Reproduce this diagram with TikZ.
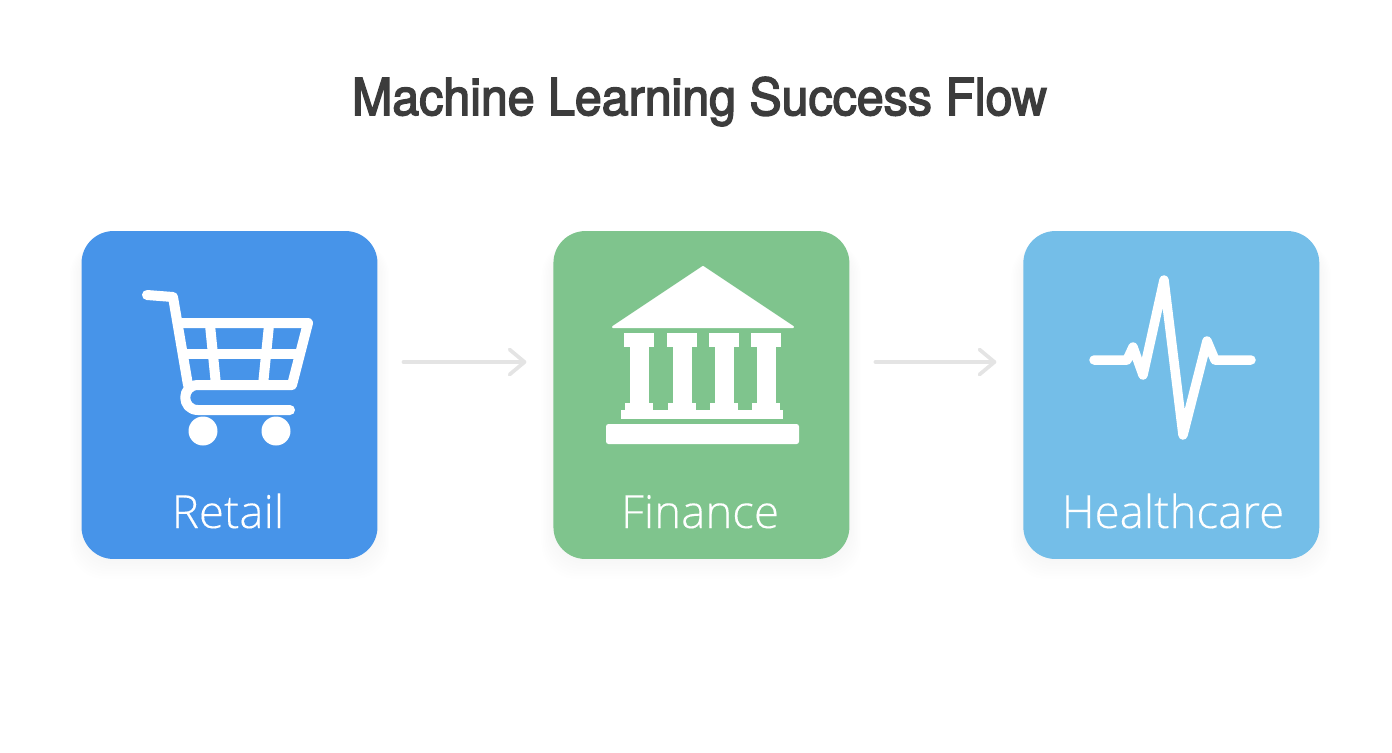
\documentclass[tikz,border=0pt]{standalone}
\usepackage{fontspec}
\usepackage{xcolor}
\usetikzlibrary{positioning,arrows.meta,backgrounds}
\setmainfont{Open Sans}
\newfontfamily\titlefont{TeX Gyre Heros}[FakeBold=3,FakeStretch=0.948]
\newfontfamily\boxfont{Open Sans Light}[FakeBold=0.2]
\definecolor{retailBlue}{RGB}{71, 148, 233}
\definecolor{financeGreen}{RGB}{127, 196, 141}
\definecolor{healthBlue}{RGB}{116, 190, 232}
\definecolor{titleGray}{RGB}{60, 60, 60}
\definecolor{arrowGray}{RGB}{228, 228, 228}
\tikzset{
  sectorbox/.style={rounded corners=0.64cm, minimum width=5.92cm, minimum height=6.56cm, outer sep=0pt, inner sep=0pt},
  boxlabel/.style={text=white, anchor=base, inner sep=0pt, font=\boxfont\fontsize{26}{26}\selectfont},
  flowarrow/.style={-{Straight Barb[length=0.3cm, width=0.5cm, round]}, line width=0.075cm, color=arrowGray, line cap=round, shorten <=0.52cm, shorten >=0.54cm},
  iconline/.style={draw=white, line width=0.2cm, line cap=round, line join=round},
  iconfill/.style={fill=white}
}
\begin{document}
\begin{tikzpicture}[x=0.02cm, y=-0.02cm]
  \useasboundingbox (0,0) rectangle (1392,752);
  \node[font=\titlefont\fontsize{29}{29}\selectfont, text=titleGray, anchor=base, inner sep=0pt] (title) at (699.5,115) {Machine Learning Success Flow};

  \node[sectorbox, fill=retailBlue] (retail) at (229.5,395) {};
  \node[sectorbox, fill=financeGreen, right=3.52cm of retail] (finance) {};
  \node[sectorbox, fill=healthBlue, right=3.48cm of finance] (health) {};

  % soft shadows
  \begin{scope}[on background layer]
    \foreach \b in {retail,finance,health}
      \foreach \g in {1,...,8}
        \fill[black, opacity=0.003, rounded corners=0.7cm] ([shift={(-\g*0.03cm,-\g*0.05cm)}]\b.south west) rectangle ([shift={(\g*0.03cm,-0.2cm)}]\b.north east);
  \end{scope}

  \node[boxlabel] (retaillabel) at (228,528) {Retail};
  \node[boxlabel] (financelabel) at (700,528) {Finance};
  \node[boxlabel] (healthlabel) at (1173,528) {Healthcare};

  \draw[flowarrow] ([yshift=0.66cm]retail.east) -- ([yshift=0.66cm]finance.west);
  \draw[flowarrow] ([yshift=0.66cm]finance.east) -- ([yshift=0.66cm]health.west);

  % cart
  \draw[iconline] (147,295) -- (173,297) -- (188,385);
  \draw[iconline] (182,323) -- (308,323) -- (292,385) -- (198,385) .. controls (181,385) and (181,410) .. (198,410) -- (290,410);
  \draw[iconline, line cap=butt] (185,354) -- (300,354);
  \draw[iconline, line cap=butt] (210,325) -- (216,385);
  \draw[iconline, line cap=butt] (269,325) -- (263,385);
  \fill[iconfill] (203,431) circle[radius=0.29cm];
  \fill[iconfill] (276,431) circle[radius=0.29cm];

  % bank
  \fill[iconfill, draw=white, line width=0.04cm, line join=round] (703,267) -- (793,327) -- (613,327) -- cycle;
  \foreach \c in {639,682,724,766} {
    \fill[iconfill] (\c-15,333) rectangle (\c+15,347);
    \fill[iconfill] (\c-9.5,345) rectangle (\c+9.5,405);
    \fill[iconfill] (\c-14,403) rectangle (\c+14,412);
  }
  \fill[iconfill] (621,410) rectangle (783,419);
  \fill[iconfill, rounded corners=0.05cm] (606,424) rectangle (799,444);

  % pulse
  \draw[iconline, line width=0.19cm] (1094,360) -- (1127,360) -- (1133,347) -- (1143,375) -- (1164,280) -- (1183,435) -- (1207,341) -- (1215,360) -- (1251,360);
\end{tikzpicture}
\end{document}
